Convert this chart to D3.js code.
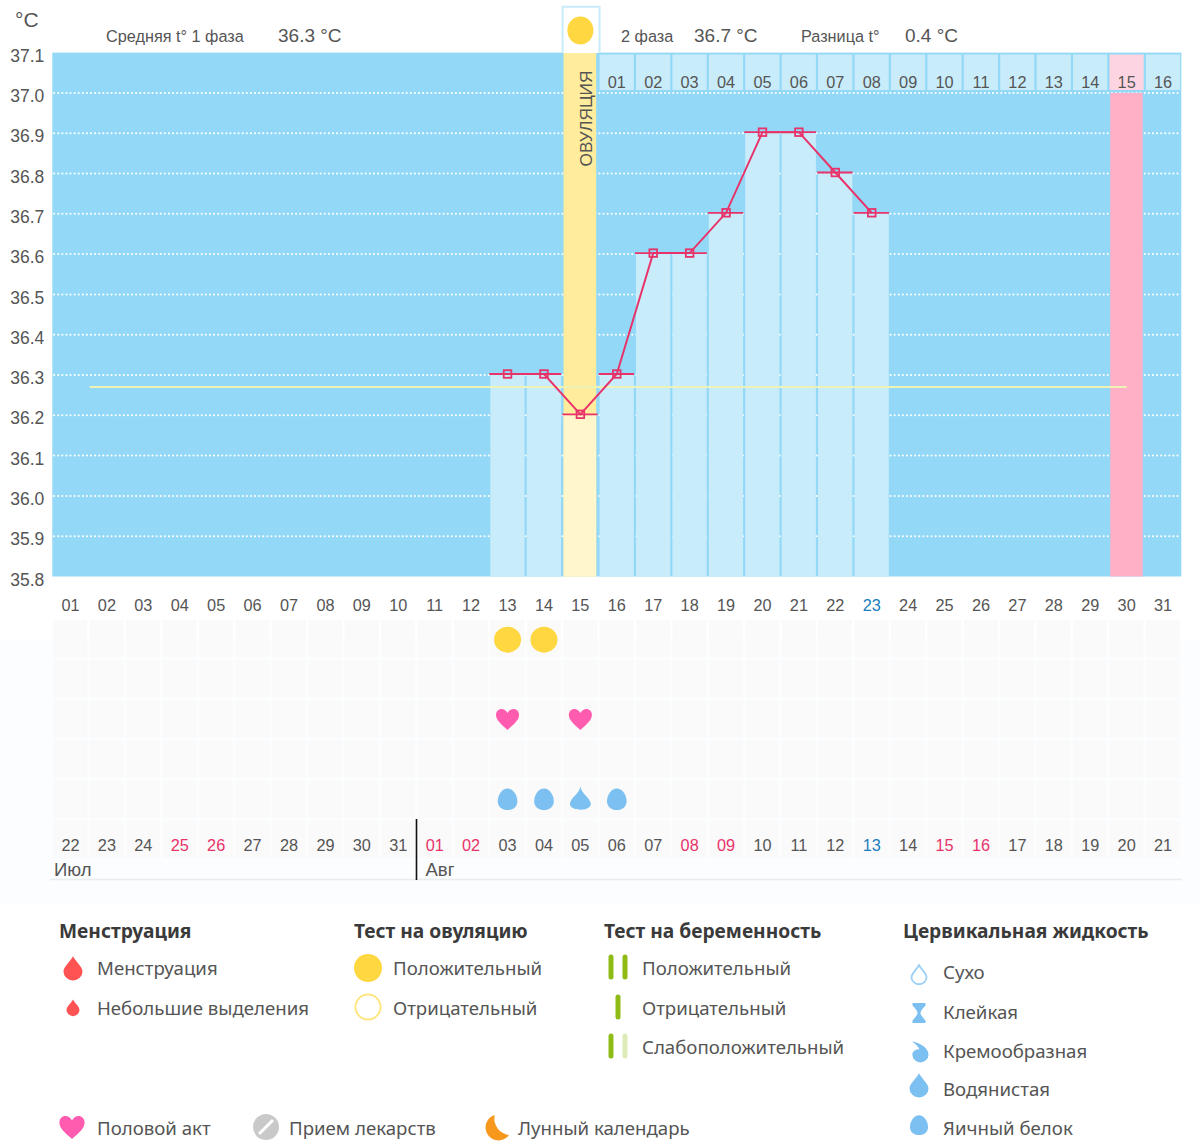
<!DOCTYPE html>
<html>
<head>
<meta charset="utf-8">
<script src="https://cdn.jsdelivr.net/npm/d3@7"></script>
<style>
  html, body { margin: 0; padding: 0; background: #fff; }
  svg { display: block; }
  text { font-family: "Liberation Sans", Arial, sans-serif; fill: #555; }
  .legend text { font-family: "Noto Sans", sans-serif; font-size: 18.65px; fill: #555; }
  .legend text.title { font-weight: 700; font-size: 19.2px; fill: #3a3a3a; }
</style>
</head>
<body>
<svg id="chart"></svg>
<script>
const WIDTH = 1200;
const HEIGHT = 1141;

const cycleDays = ["01","02","03","04","05","06","07","08","09","10","11","12","13","14","15","16",
  "17","18","19","20","21","22","23","24","25","26","27","28","29","30","31"];
const calendarDays = ["22","23","24","25","26","27","28","29","30","31","01","02","03","04","05","06",
  "07","08","09","10","11","12","13","14","15","16","17","18","19","20","21"];
const phaseDays = ["01","02","03","04","05","06","07","08","09","10","11","12","13","14","15","16"];
const temperatureTicks = [37.1, 37.0, 36.9, 36.8, 36.7, 36.6, 36.5, 36.4, 36.3, 36.2, 36.1, 36.0, 35.9, 35.8];

const measuredDays = ["13","14","15","16","17","18","19","20","21","22","23"];
const measuredTemps = [36.3, 36.3, 36.2, 36.3, 36.6, 36.6, 36.7, 36.9, 36.9, 36.8, 36.7];
const averageTemp = 36.27;
const ovulationDay = "15";
const expectedPeriodDay = "30";
const blueCycleDays = ["23"];
const blueCalendarIndex = [22];
const redCalendarIndex = [3, 4, 10, 11, 17, 18, 24, 25];

const rowNames = ["ovulation", "pregnancy", "sex", "medicine", "fluid", "calendar"];
const ovulationTestDays = ["13", "14"];
const sexDays = ["13", "15"];
const fluidDays = ["13", "14", "15", "16"];
const fluidKinds = ["egg", "egg", "water", "egg"];

const BLUE_BG = "#93d9f7";
const BLUE_LIGHT = "#c9ecfa";
const YELLOW = "#ffec9c";
const YELLOW_LIGHT = "#fff6cc";
const PINK = "#ffb0c6";
const PINK_LIGHT = "#fdd5e2";
const LINE_RED = "#e8336a";
const TEXT_RED = "#e8336a";
const TEXT_BLUE = "#1a7dbd";
const SUN = "#ffd740";
const DROP_BLUE = "#7cc0f2";
const HEART = "#ff5cb0";
const MENSES = "#ff5252";
const TEST_GREEN = "#8fbc14";

const x = d3.scaleBand().domain(cycleDays).range([52.3, 1181.3]);
const y = d3.scaleLinear().domain([35.8, 37.1]).range([576.5, 52.6]);
const rowY = d3.scaleBand().domain(rowNames).range([620, 858]).paddingInner(0.07);

const svg = d3.select("#chart").attr("width", WIDTH).attr("height", HEIGHT)
  .attr("viewBox", `0 0 ${WIDTH} ${HEIGHT}`);

function center(day) {
  return x(day) + x.bandwidth() / 2;
}

// icon shapes, all drawn around 0,0
function dropPath(r) {
  return `M0,${-r * 1.45} C${r * 0.35},${-r * 0.8} ${r},${-r * 0.35} ${r},${r * 0.15}
    A${r},${r * 0.95} 0 1 1 ${-r},${r * 0.15} C${-r},${-r * 0.35} ${-r * 0.35},${-r * 0.8} 0,${-r * 1.45}Z`;
}
function eggPath(r) {
  return `M0,${-r * 1.2} C${r * 0.55},${-r * 1.2} ${r},${-r * 0.55} ${r},${r * 0.1}
    C${r},${r * 0.7} ${r * 0.55},${r} 0,${r} C${-r * 0.55},${r} ${-r},${r * 0.7} ${-r},${r * 0.1}
    C${-r},${-r * 0.55} ${-r * 0.55},${-r * 1.2} 0,${-r * 1.2}Z`;
}
function waterPath(r) {
  return `M0,${-r * 1.45} C${r * 0.1},${-r * 0.7} ${r},${-r * 0.3} ${r * 1.1},${r * 0.35}
    C${r * 1.1},${r * 0.85} ${r * 0.5},${r} 0,${r} C${-r * 0.5},${r} ${-r * 1.1},${r * 0.85} ${-r * 1.1},${r * 0.35}
    C${-r},${-r * 0.3} ${-r * 0.1},${-r * 0.7} 0,${-r * 1.45}Z`;
}
function heartPath(r) {
  return `M0,${r} C${-r * 0.45},${r * 0.6} ${-r * 1.05},${r * 0.15} ${-r * 1.05},${-r * 0.35}
    C${-r * 1.05},${-r} ${-r * 0.3},${-r * 1.1} 0,${-r * 0.55}
    C${r * 0.3},${-r * 1.1} ${r * 1.05},${-r} ${r * 1.05},${-r * 0.35}
    C${r * 1.05},${r * 0.15} ${r * 0.45},${r * 0.6} 0,${r}Z`;
}
function moonPath(r) {
  return `M${-r * 0.1},${-r} A${r},${r} 0 1 0 ${r},${r * 0.55} A${r * 1.3},${r * 1.3} 0 0 1 ${-r * 0.1},${-r}Z`;
}
function hourglassPath(r) {
  return `M${-r * 0.65},${-r} L${r * 0.65},${-r} L${r * 0.65},${-r * 0.75} C${r * 0.35},${-r * 0.4} ${r * 0.15},${-r * 0.2} ${r * 0.15},0
    C${r * 0.15},${r * 0.2} ${r * 0.35},${r * 0.4} ${r * 0.65},${r * 0.75} L${r * 0.65},${r} L${-r * 0.65},${r} L${-r * 0.65},${r * 0.75}
    C${-r * 0.35},${r * 0.4} ${-r * 0.15},${r * 0.2} ${-r * 0.15},0 C${-r * 0.15},${-r * 0.2} ${-r * 0.35},${-r * 0.4} ${-r * 0.65},${-r * 0.75}Z`;
}
function creamyPath(r) {
  return `M${-r * 0.75},${-r * 1.1} C${-r * 0.1},${-r * 1.05} ${r},${-r * 0.5} ${r},${r * 0.25}
    A${r * 0.85},${r * 0.85} 0 0 1 ${-r * 0.7},${r * 0.25} C${-r * 0.7},${-r * 0.1} ${-r * 0.3},${-r * 0.3} ${r * 0.05},${-r * 0.3}
    C${-r * 0.1},${-r * 0.6} ${-r * 0.4},${-r * 0.85} ${-r * 0.75},${-r * 1.1}Z`;
}

function drawPlot() {
  svg.append("rect").attr("x", 0).attr("y", 640).attr("width", WIDTH).attr("height", 265).attr("fill", "#fbfdfe");

  svg.append("rect")
    .attr("x", x.range()[0]).attr("y", y(37.1))
    .attr("width", x.range()[1] - x.range()[0]).attr("height", y(35.8) - y(37.1))
    .attr("fill", BLUE_BG);

  svg.append("g").selectAll("line")
    .data(temperatureTicks.slice(1, -1))
    .join("line")
    .attr("x1", 50).attr("x2", x.range()[1])
    .attr("y1", (d) => y(d)).attr("y2", (d) => y(d))
    .attr("stroke", "#fff").attr("stroke-width", 2)
    .attr("stroke-linecap", "round").attr("stroke-dasharray", "0.1 4");

  // columns behind the curve
  svg.append("rect")
    .attr("x", x(expectedPeriodDay) + 1.8).attr("y", y(37.0))
    .attr("width", x.bandwidth() - 4).attr("height", y(35.8) - y(37.0))
    .attr("fill", PINK);
  svg.append("rect")
    .attr("x", x(ovulationDay) + 1.4).attr("y", y(37.1))
    .attr("width", x.bandwidth() - 3.8).attr("height", y(35.8) - y(37.1))
    .attr("fill", YELLOW);

  svg.append("g").selectAll("rect")
    .data(measuredDays.map((day, i) => ({ day, temp: measuredTemps[i] })))
    .join("rect")
    .attr("x", (d) => x(d.day) + (d.day === ovulationDay ? 1.4 : 1))
    .attr("y", (d) => y(d.temp))
    .attr("width", (d) => x.bandwidth() - (d.day === ovulationDay ? 3.8 : 2.2))
    .attr("height", (d) => y(35.8) - y(d.temp))
    .attr("fill", (d) => (d.day === ovulationDay ? YELLOW_LIGHT : BLUE_LIGHT));

  // phase day cells, counted from the day after ovulation
  const phaseOffset = cycleDays.indexOf(ovulationDay) + 1;
  const cells = svg.append("g").selectAll("g")
    .data(phaseDays)
    .join("g")
    .attr("transform", (d, i) => `translate(${x(cycleDays[phaseOffset + i])},0)`);
  cells.append("rect")
    .attr("x", 1).attr("y", 54.5)
    .attr("width", x.bandwidth() - 2.2).attr("height", 35.5)
    .attr("fill", (d, i) => (cycleDays[phaseOffset + i] === expectedPeriodDay ? PINK_LIGHT : BLUE_LIGHT));
  cells.append("text")
    .attr("x", x.bandwidth() / 2).attr("y", 88)
    .attr("text-anchor", "middle").attr("font-size", 16.3)
    .text((d) => d);

  // ovulation flag
  svg.append("path")
    .attr("d", `M${x(ovulationDay) + 0.4},53 V6.8 H${x(ovulationDay) + x.bandwidth() + 1} V53`)
    .attr("fill", "#fff").attr("stroke", BLUE_LIGHT).attr("stroke-width", 2);
  svg.append("ellipse")
    .attr("cx", center(ovulationDay)).attr("cy", 30.5)
    .attr("rx", 13).attr("ry", 14).attr("fill", SUN);
  svg.append("text")
    .attr("transform", `translate(${center(ovulationDay) + 12},118.5) rotate(-90)`)
    .attr("text-anchor", "middle").attr("font-size", 17.2)
    .text("ОВУЛЯЦИЯ");

  // average line
  svg.append("line")
    .attr("x1", x("02") + 1).attr("x2", center(expectedPeriodDay))
    .attr("y1", y(averageTemp)).attr("y2", y(averageTemp))
    .attr("stroke", "#eef2b4").attr("stroke-width", 2);

  // temperature curve, sits about a pixel above the grid in the original
  const curve = svg.append("g").attr("transform", "translate(0,-1)");
  const points = measuredDays.map((day, i) => ({ day, temp: measuredTemps[i] }));
  const line = d3.line().x((d) => center(d.day)).y((d) => y(d.temp));
  curve.append("path").datum(points)
    .attr("d", line).attr("fill", "none")
    .attr("stroke", LINE_RED).attr("stroke-width", 2);
  curve.append("g").selectAll("line")
    .data(points)
    .join("line")
    .attr("x1", (d) => x(d.day)).attr("x2", (d) => x(d.day) + x.bandwidth() - 1)
    .attr("y1", (d) => y(d.temp)).attr("y2", (d) => y(d.temp))
    .attr("stroke", LINE_RED).attr("stroke-width", 1.8);
  curve.append("g").selectAll("rect")
    .data(points)
    .join("rect")
    .attr("x", (d) => center(d.day) - 3.8).attr("y", (d) => y(d.temp) - 3.8)
    .attr("width", 7.6).attr("height", 7.6)
    .attr("fill", "none").attr("stroke", LINE_RED).attr("stroke-width", 1.8);
}

function drawRows() {
  const cellData = d3.cross(rowNames, cycleDays);
  svg.append("g").selectAll("rect")
    .data(cellData)
    .join("rect")
    .attr("x", (d) => x(d[1]) + 1)
    .attr("y", (d) => rowY(d[0]))
    .attr("width", x.bandwidth() - 2.4)
    .attr("height", rowY.bandwidth())
    .attr("fill", "#fafafa");

  const rowCenter = (name) => rowY(name) + rowY.bandwidth() / 2;

  svg.append("g").selectAll("ellipse")
    .data(ovulationTestDays)
    .join("ellipse")
    .attr("cx", (d) => center(d)).attr("cy", rowCenter("ovulation") + 1)
    .attr("rx", 13.5).attr("ry", 13).attr("fill", SUN);

  svg.append("g").selectAll("path")
    .data(sexDays)
    .join("path")
    .attr("transform", (d) => `translate(${center(d)},${rowCenter("sex")})`)
    .attr("d", heartPath(11)).attr("fill", HEART);

  svg.append("g").selectAll("path")
    .data(fluidDays.map((day, i) => ({ day, kind: fluidKinds[i] })))
    .join("path")
    .attr("transform", (d) => `translate(${center(d.day)},${rowCenter("fluid") + 1})`)
    .attr("d", (d) => (d.kind === "water" ? waterPath(9.5) : eggPath(9.8)))
    .attr("fill", DROP_BLUE);

  // month strip
  const monthX = x(cycleDays[calendarDays.indexOf("01")]);
  svg.append("line").attr("x1", 50).attr("x2", 1182).attr("y1", 879.5).attr("y2", 879.5)
    .attr("stroke", "#e8eef0").attr("stroke-width", 1.5);
  svg.append("line").attr("x1", monthX).attr("x2", monthX).attr("y1", 819).attr("y2", 880)
    .attr("stroke", "#111").attr("stroke-width", 1.6);
  svg.append("text").attr("x", 54).attr("y", 876).attr("font-size", 18.5).text("Июл");
  svg.append("text").attr("x", monthX + 9).attr("y", 876).attr("font-size", 18.5).text("Авг");
}

function drawAxes() {
  const yAxis = d3.axisLeft(y).tickValues(temperatureTicks).tickSize(0).tickPadding(8)
    .tickFormat(d3.format(".1f"));
  const yGroup = svg.append("g").attr("transform", `translate(52.3,3)`).call(yAxis);
  yGroup.select(".domain").remove();
  yGroup.selectAll("text").attr("font-size", 17.5);

  const topAxis = d3.axisBottom(x).tickSize(0).tickPadding(0);
  const topGroup = svg.append("g").attr("transform", "translate(0,599)").call(topAxis);
  topGroup.select(".domain").remove();
  topGroup.selectAll("text")
    .attr("font-size", 16.3)
    .style("fill", (d) => (blueCycleDays.includes(d) ? TEXT_BLUE : "#555"));

  const bottomAxis = d3.axisBottom(x).tickSize(0).tickPadding(0)
    .tickFormat((d) => calendarDays[cycleDays.indexOf(d)]);
  const bottomGroup = svg.append("g").attr("transform", "translate(0,839)").call(bottomAxis);
  bottomGroup.select(".domain").remove();
  bottomGroup.selectAll("text")
    .attr("font-size", 16.3)
    .style("fill", (d) => {
      const i = cycleDays.indexOf(d);
      return redCalendarIndex.includes(i) ? TEXT_RED : blueCalendarIndex.includes(i) ? TEXT_BLUE : "#555";
    });
}

function drawHeaderTexts() {
  const head = svg.append("g");
  const put = (tx, ty, size, str) => head.append("text").attr("x", tx).attr("y", ty).attr("font-size", size).text(str);
  put(15, 27, 21, "°C");
  put(106, 42, 16.25, "Средняя t° 1 фаза");
  put(278, 42, 19, "36.3 °C");
  put(621, 42, 16.25, "2 фаза");
  put(694, 42, 19, "36.7 °C");
  put(801, 42, 16.25, "Разница t°");
  put(905, 42, 19, "0.4 °C");
}

const legendMenstruation = ["Менструация", "Небольшие выделения"];
const legendOvulation = ["Положительный", "Отрицательный"];
const legendPregnancy = ["Положительный", "Отрицательный", "Слабоположительный"];
const legendFluid = ["Сухо", "Клейкая", "Кремообразная", "Водянистая", "Яичный белок"];
const legendOther = ["Половой акт", "Прием лекарств", "Лунный календарь"];

function drawLegend() {
  const legend = svg.append("g").attr("class", "legend");
  const title = (tx, str) => legend.append("text").attr("class", "title").attr("x", tx).attr("y", 938).text(str);
  const label = (tx, ty, str) => legend.append("text").attr("x", tx).attr("y", ty).text(str);
  const icon = (cx, cy, d, fill) => legend.append("path")
    .attr("transform", `translate(${cx},${cy})`).attr("d", d).attr("fill", fill);

  title(59, "Менструация");
  title(354, "Тест на овуляцию");
  title(604, "Тест на беременность");
  title(903, "Цервикальная жидкость");

  label(97, 975, legendMenstruation[0]);
  label(97, 1015, legendMenstruation[1]);
  icon(73, 970, dropPath(9.5), MENSES);
  icon(73, 1009, dropPath(6.5), MENSES);

  label(393, 975, legendOvulation[0]);
  label(393, 1015, legendOvulation[1]);
  legend.append("circle").attr("cx", 368).attr("cy", 968).attr("r", 14).attr("fill", SUN);
  legend.append("circle").attr("cx", 368).attr("cy", 1007).attr("r", 12.5)
    .attr("fill", "#fff").attr("stroke", "#ffe680").attr("stroke-width", 2);

  const bar = (cx, cy, fill) => legend.append("rect")
    .attr("x", cx - 2.5).attr("y", cy - 12.5).attr("width", 5).attr("height", 25).attr("rx", 2.5).attr("fill", fill);
  label(642, 975, legendPregnancy[0]);
  label(642, 1015, legendPregnancy[1]);
  label(642, 1054, legendPregnancy[2]);
  bar(611, 967, TEST_GREEN);
  bar(625, 967, TEST_GREEN);
  bar(618, 1007, TEST_GREEN);
  bar(611, 1046, TEST_GREEN);
  bar(625, 1046, "#dcebb8");

  label(943, 979, legendFluid[0]);
  label(943, 1019, legendFluid[1]);
  label(943, 1058, legendFluid[2]);
  label(943, 1096, legendFluid[3]);
  label(943, 1135, legendFluid[4]);
  legend.append("path").attr("transform", "translate(919,976)").attr("d", dropPath(7.5))
    .attr("fill", "#fff").attr("stroke", "#9ad0f5").attr("stroke-width", 1.8);
  icon(919, 1013, hourglassPath(10), DROP_BLUE);
  icon(919, 1052, creamyPath(9.5), DROP_BLUE);
  icon(919, 1087, dropPath(9.5), DROP_BLUE);
  icon(919, 1126, eggPath(9), DROP_BLUE);

  label(97, 1135, legendOther[0]);
  label(289, 1135, legendOther[1]);
  label(518, 1135, legendOther[2]);
  icon(72, 1127, heartPath(12), HEART);
  legend.append("circle").attr("cx", 266).attr("cy", 1127).attr("r", 13).attr("fill", "#c9c9c9");
  legend.append("line").attr("x1", 259).attr("y1", 1134).attr("x2", 273).attr("y2", 1120)
    .attr("stroke", "#fff").attr("stroke-width", 3);
  icon(496, 1128, moonPath(13), "#f7981d");
}

drawPlot();
drawRows();
drawAxes();
drawHeaderTexts();
drawLegend();
</script>
</body>
</html>
